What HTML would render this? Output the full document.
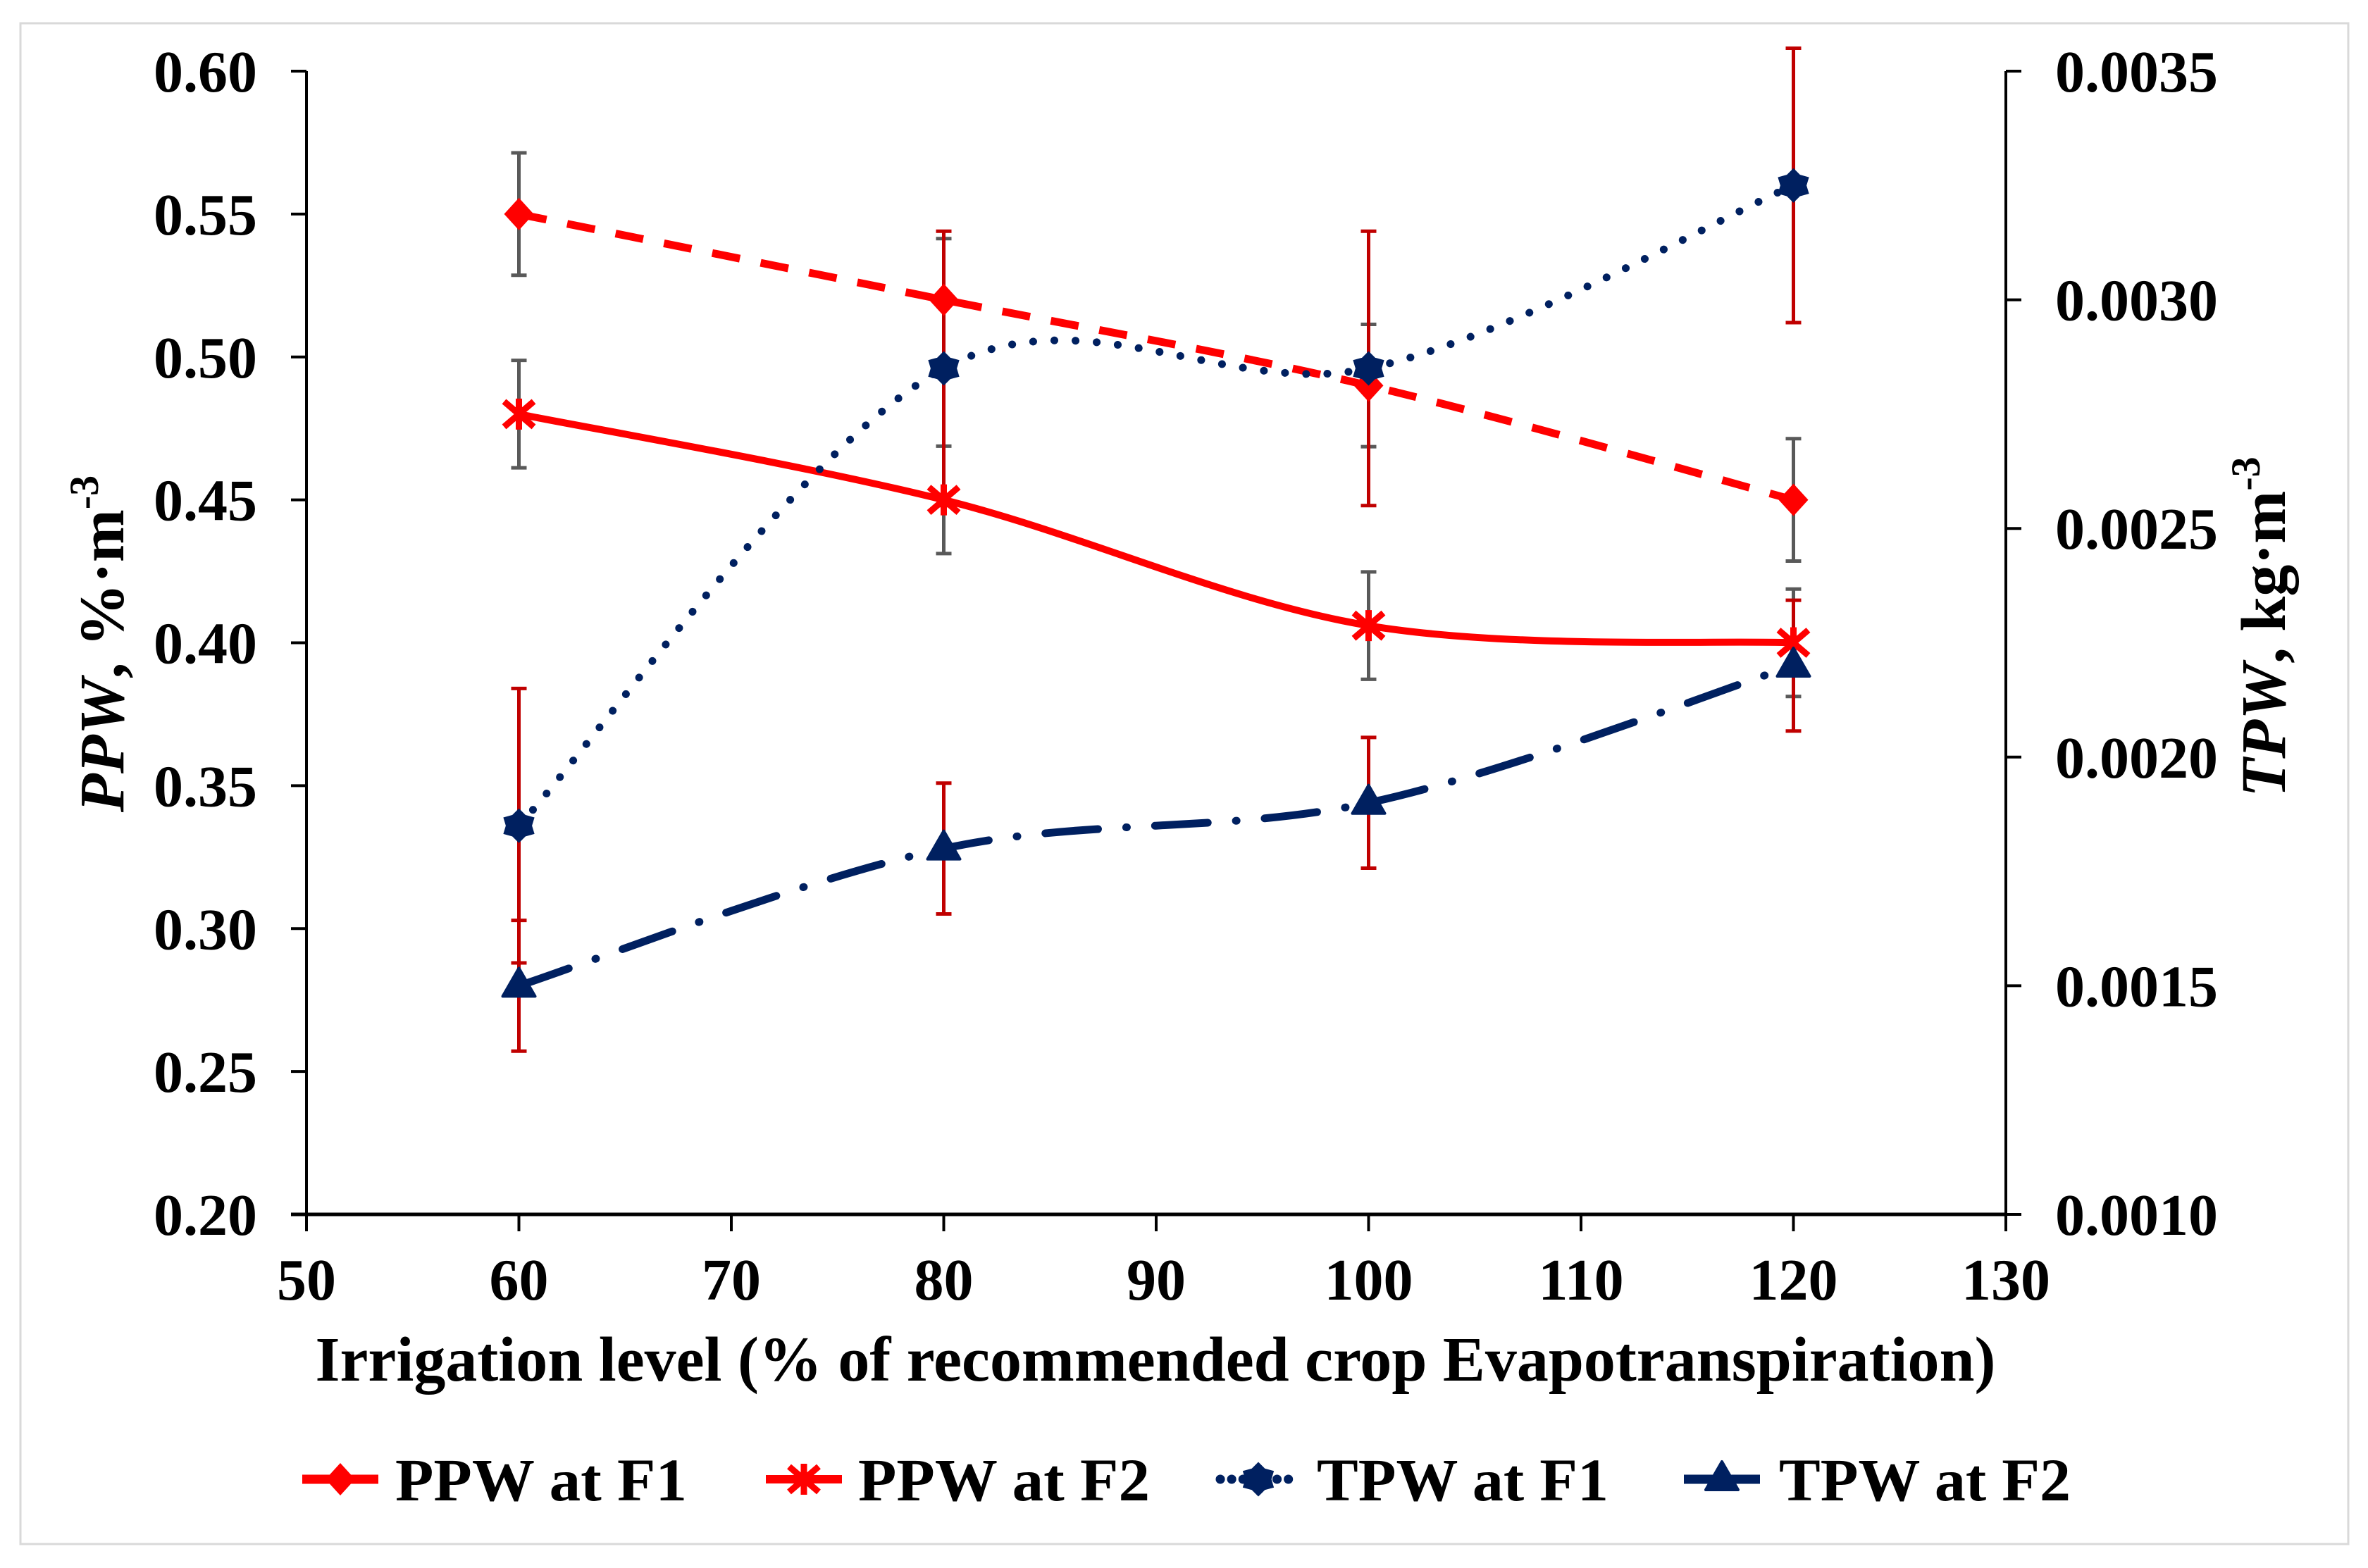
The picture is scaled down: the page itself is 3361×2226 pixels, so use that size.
<!DOCTYPE html>
<html><head><meta charset="utf-8"><style>
html,body{margin:0;padding:0;background:#fff;}
svg{display:block;font-family:"Liberation Serif",serif;font-weight:bold;}
</style></head><body>
<svg id="chart" width="3361" height="2226" viewBox="0 0 3361 2226" xmlns="http://www.w3.org/2000/svg">
<rect x="29" y="33" width="3304" height="2159" fill="#fff" stroke="#d9d9d9" stroke-width="3"/>
<g id="axes"></g>
<g id="series"></g>
<text transform="translate(175,914) rotate(-90)" text-anchor="middle" font-size="90"><tspan font-style="italic">PPW</tspan>, %·m<tspan font-size="58" dy="-36">-3</tspan></text>
<text transform="translate(3243,890) rotate(-90)" text-anchor="middle" font-size="90"><tspan font-style="italic">TPW</tspan>, kg·m<tspan font-size="58" dy="-36">-3</tspan></text>
<text x="1640" y="1960" text-anchor="middle" font-size="90" textLength="2385" lengthAdjust="spacingAndGlyphs">Irrigation level (% of recommended crop Evapotranspiration)</text>
<g id="legend"></g>
</svg>
<script>
const categories = [60, 80, 100, 120];
const ppwF1 = [0.55, 0.52, 0.49, 0.45];
const ppwF2 = [0.48, 0.45, 0.406, 0.40];
const tpwF1 = [0.00185, 0.00285, 0.00285, 0.00325];
const tpwF2 = [0.0015, 0.0018, 0.0019, 0.0022];
const ppwF1Err = [0.0214, 0.0214, 0.0214, 0.0214];
const ppwF2Err = [0.0188, 0.0188, 0.0188, 0.0188];
const tpwF1Err = [0.0003, 0.0003, 0.0003, 0.0003];
const tpwF2Err = [0.000143, 0.000143, 0.000143, 0.000143];
const xTicks = [50, 60, 70, 80, 90, 100, 110, 120, 130];
const yTicks = [0.20, 0.25, 0.30, 0.35, 0.40, 0.45, 0.50, 0.55, 0.60];
const y2Ticks = [0.0010, 0.0015, 0.0020, 0.0025, 0.0030, 0.0035];
const legendLabels = ["PPW at F1", "PPW at F2", "TPW at F1", "TPW at F2"];

const NS = "http://www.w3.org/2000/svg";
const L = 435, R = 2847, T = 101, B = 1724;
const xs = v => L + (v - 50) / 80 * (R - L);
const ys = v => B - (v - 0.20) / 0.40 * (B - T);
const y2s = v => B - (v - 0.0010) / 0.0025 * (B - T);
function mk(tag, attrs, parent) {
  const e = document.createElementNS(NS, tag);
  for (const k in attrs) e.setAttribute(k, attrs[k]);
  parent.appendChild(e);
  return e;
}
const axes = document.getElementById('axes');
const series = document.getElementById('series');
const legend = document.getElementById('legend');

let e = mk('line', {x1: L, y1: T, x2: L, y2: B + 2, stroke: '#000', 'stroke-width': 4}, axes);
 
e = mk('line', {x1: R, y1: T, x2: R, y2: B + 2, stroke: '#000', 'stroke-width': 4}, axes);
 
e = mk('line', {x1: L - 22, y1: B, x2: R, y2: B, stroke: '#000', 'stroke-width': 5}, axes);
 

yTicks.forEach(v => {
  const y = ys(v);
  const t = mk('line', {x1: L - 22, y1: y, x2: L, y2: y, stroke: '#000', 'stroke-width': 4}, axes);
   
  const l = mk('text', {x: 365, y: y + 29, 'text-anchor': 'end', 'font-size': 84}, axes);
  l.textContent = v.toFixed(2);
   
});
y2Ticks.forEach(v => {
  const y = y2s(v);
  const t = mk('line', {x1: R, y1: y, x2: R + 22, y2: y, stroke: '#000', 'stroke-width': 4}, axes);
   
  const l = mk('text', {x: 2917, y: y + 29, 'text-anchor': 'start', 'font-size': 84}, axes);
  l.textContent = v.toFixed(4);
   
});
xTicks.forEach(v => {
  const x = xs(v);
  const t = mk('line', {x1: x, y1: B, x2: x, y2: B + 24, stroke: '#000', 'stroke-width': 4}, axes);
   
  const l = mk('text', {x: x, y: 1845, 'text-anchor': 'middle', 'font-size': 84}, axes);
  l.textContent = v;
   
});

function smoothPath(pts) {
  let d = `M${pts[0][0]},${pts[0][1]}`;
  const t = 0.5 / 3 * 2;
  for (let i = 0; i < pts.length - 1; i++) {
    const p0 = pts[i - 1] || pts[i], p1 = pts[i], p2 = pts[i + 1], p3 = pts[i + 2] || p2;
    const c1 = [p1[0] + (p2[0] - p0[0]) * t / 2, p1[1] + (p2[1] - p0[1]) * t / 2];
    const c2 = [p2[0] - (p3[0] - p1[0]) * t / 2, p2[1] - (p3[1] - p1[1]) * t / 2];
    d += ` C${c1[0]},${c1[1]} ${c2[0]},${c2[1]} ${p2[0]},${p2[1]}`;
  }
  return d;
}
function marker(kind, x, y, color, parent) {
  let m;
  if (kind === 'diamond') m = mk('path', {d: `M${x},${y-23} L${x+21},${y} L${x},${y+23} L${x-21},${y} Z`, fill: color}, parent);
  else if (kind === 'x') m = mk('path', {d: `M${x-21},${y-18} L${x+21},${y+18} M${x-21},${y+18} L${x+21},${y-18} M${x},${y-22} L${x},${y+22}`, stroke: color, 'stroke-width': 9, fill: 'none'}, parent);
  else if (kind === 'star') m = mk('path', {d: `M${x},${y-21} L${x+8},${y-13} L${x+19},${y-10} L${x+16},${y} L${x+19},${y+10} L${x+8},${y+13} L${x},${y+21} L${x-8},${y+13} L${x-19},${y+10} L${x-16},${y} L${x-19},${y-10} L${x-8},${y-13} Z`, fill: color, stroke: color, 'stroke-width': 5}, parent);
  else m = mk('path', {d: `M${x},${y-25} L${x+23},${y+15} L${x-23},${y+15} Z`, fill: color, stroke: color, 'stroke-width': 4, 'stroke-linejoin': 'round'}, parent);
  return m;
}
const defs = [
  {vals: ppwF1, err: ppwF1Err, sc: ys, color: '#ff0000', ecol: '#595959', dash: '40 30', w: 11, mk: 'diamond', name: 'ppw-f1'},
  {vals: ppwF2, err: ppwF2Err, sc: ys, color: '#ff0000', ecol: '#595959', dash: '', w: 10, mk: 'x', name: 'ppw-f2'},
  {vals: tpwF1, err: tpwF1Err, sc: y2s, color: '#002060', ecol: '#c00000', dash: '0.1 30', w: 11, mk: 'star', name: 'tpw-f1'},
  {vals: tpwF2, err: tpwF2Err, sc: y2s, color: '#002060', ecol: '#c00000', dash: '75 40 1 40', w: 11, mk: 'triangle', name: 'tpw-f2'}
];
defs.forEach(s => {
  categories.forEach((c, i) => {
    const x = xs(c), y1 = s.sc(s.vals[i] + s.err[i]), y2 = s.sc(s.vals[i] - s.err[i]);
    const g = mk('path', {d: `M${x},${y1} L${x},${y2} M${x-11},${y1} L${x+11},${y1} M${x-11},${y2} L${x+11},${y2}`, stroke: s.ecol, 'stroke-width': 5, fill: 'none'}, series);
    
    
  });
});
defs.forEach(s => {
  const pts = categories.map((c, i) => [xs(c), s.sc(s.vals[i])]);
  const p = mk('path', {d: smoothPath(pts), fill: 'none', stroke: s.color, 'stroke-width': s.w, 'stroke-linecap': 'round'}, series);
  if (s.dash) p.setAttribute('stroke-dasharray', s.dash);
  if (s.mk === 'diamond') p.setAttribute('stroke-linecap', 'butt');
  
  
  pts.forEach(pt => {
    const m = marker(s.mk, pt[0], pt[1], s.color, series);
    
    
  });
});
const legX = [429, 1087, 1732, 2390];
const legTextX = [561, 1218, 1869, 2525];
const legY = 2100;
defs.forEach((s, i) => {
  const g = mk('g', {}, legend);
  
  
  const ln = mk('line', {x1: legX[i], y1: legY, x2: legX[i] + 108, y2: legY, stroke: s.color, 'stroke-width': s.w + 2}, g);
  if (s.mk === 'star') { ln.setAttribute('stroke-dasharray', '0.1 16'); ln.setAttribute('stroke-linecap', 'round'); }
  
  
  const m = marker(s.mk, legX[i] + 54, legY, s.color, g);
  
  
  const t = mk('text', {x: legTextX[i], y: legY + 30, 'font-size': 86, textLength: 414, lengthAdjust: 'spacingAndGlyphs'}, g);
  t.textContent = legendLabels[i];
  
  
});
</script>
</body></html>
